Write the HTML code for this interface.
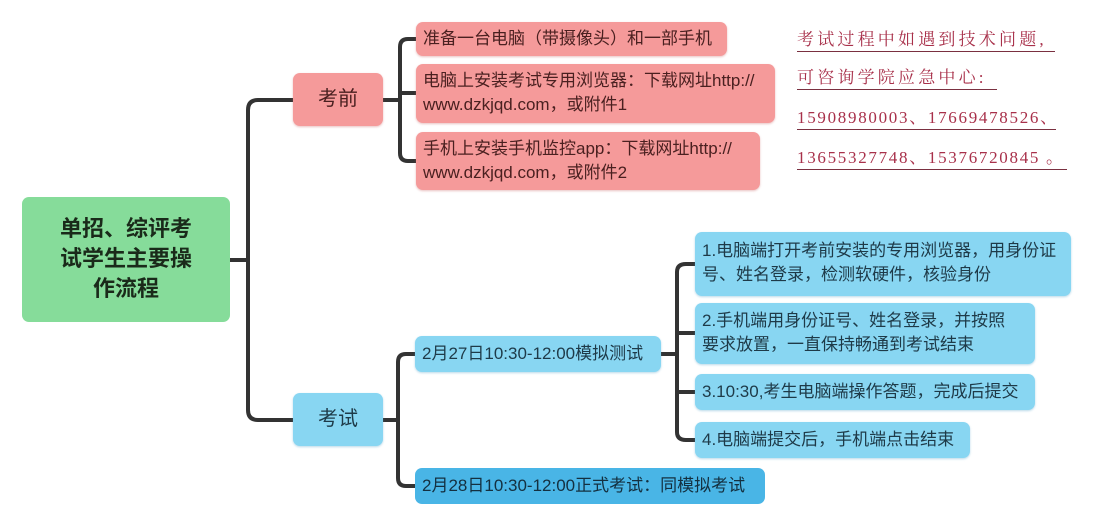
<!DOCTYPE html>
<html><head><meta charset="utf-8"><style>
body{margin:0;width:1111px;height:530px;background:#fff;position:relative;overflow:hidden;font-family:"Liberation Sans","Noto Sans CJK SC",sans-serif;}
.b{position:absolute;box-sizing:border-box;border-radius:7px;font-size:17px;line-height:24px;padding:5px 7px;white-space:nowrap;}
.p{background:#f59a9a;color:#4a2020;box-shadow:0 1px 2px rgba(200,100,100,.4);}
.c{background:#88d6f2;color:#1e3a48;box-shadow:0 1px 2px rgba(80,160,200,.4);}
.r{position:absolute;font-family:"Liberation Serif","Noto Serif CJK SC",serif;font-size:17px;color:#a8304a;border-bottom:1px solid #7a3040;left:797px;line-height:22px;white-space:nowrap;}
</style></head><body>
<svg width="1111" height="530" style="position:absolute;left:0;top:0">
<g fill="none" stroke="#333" stroke-width="4">
<path d="M230 260 H248"/>
<path d="M293 100 H258 Q248 100 248 110 V410 Q248 420 258 420 H293"/>
<path d="M383 100 H400"/>
<path d="M416 39 H408 Q400 39 400 47 V153 Q400 161 408 161 H416"/>
<path d="M400 93 H416"/>
<path d="M383 420 H398"/>
<path d="M415 354 H406 Q398 354 398 362 V478 Q398 486 406 486 H415"/>
<path d="M661 354 H677"/>
<path d="M695 264 H686 Q677 264 677 272 V432 Q677 440 686 440 H695"/>
<path d="M677 333 H695"/>
<path d="M677 392 H695"/>
</g></svg>
<div class="b" style="left:22px;top:197px;width:208px;height:125px;background:#86dc9a;color:#1a2a1a;font-weight:bold;font-size:22px;line-height:30px;text-align:center;padding:17px 0">单招、综评考<br>试学生主要操<br>作流程</div>
<div class="b p" style="left:293px;top:73px;width:90px;height:53px;font-size:20px;text-align:center;line-height:43px">考前</div>
<div class="b c" style="left:293px;top:393px;width:90px;height:53px;font-size:20px;text-align:center;line-height:43px">考试</div>
<div class="b p" style="left:416px;top:22px;width:311px;height:34px;line-height:24px">准备一台电脑（带摄像头）和一部手机</div>
<div class="b p" style="left:416px;top:64px;width:359px;height:59px">电脑上安装考试专用浏览器：下载网址http://<br>www.dzkjqd.com，或附件1</div>
<div class="b p" style="left:416px;top:132px;width:344px;height:58px">手机上安装手机监控app：下载网址http://<br>www.dzkjqd.com，或附件2</div>
<div class="b c" style="left:415px;top:336px;width:246px;height:36px;line-height:26px">2月27日10:30-12:00模拟测试</div>
<div class="b" style="left:415px;top:468px;width:350px;height:36px;line-height:26px;background:#49b5e6;color:#143040">2月28日10:30-12:00正式考试：同模拟考试</div>
<div class="b c" style="left:695px;top:232px;width:376px;height:64px;padding-top:7px">1.电脑端打开考前安装的专用浏览器，用身份证<br>号、姓名登录，检测软硬件，核验身份</div>
<div class="b c" style="left:695px;top:303px;width:340px;height:61px;padding-top:6px">2.手机端用身份证号、姓名登录，并按照<br>要求放置，一直保持畅通到考试结束</div>
<div class="b c" style="left:695px;top:374px;width:340px;height:36px;line-height:26px">3.10:30,考生电脑端操作答题，完成后提交</div>
<div class="b c" style="left:695px;top:422px;width:275px;height:36px;line-height:26px">4.电脑端提交后，手机端点击结束</div>
<div class="r" style="top:29px;width:258px;letter-spacing:3.2px">考试过程中如遇到技术问题,</div>
<div class="r" style="top:67px;width:200px;letter-spacing:3.2px">可咨询学院应急中心:</div>
<div class="r" style="top:107px;width:259px;letter-spacing:1.7px">15908980003、17669478526、</div>
<div class="r" style="top:147px;width:270px;letter-spacing:1.7px">13655327748、15376720845 。</div>
</body></html>
